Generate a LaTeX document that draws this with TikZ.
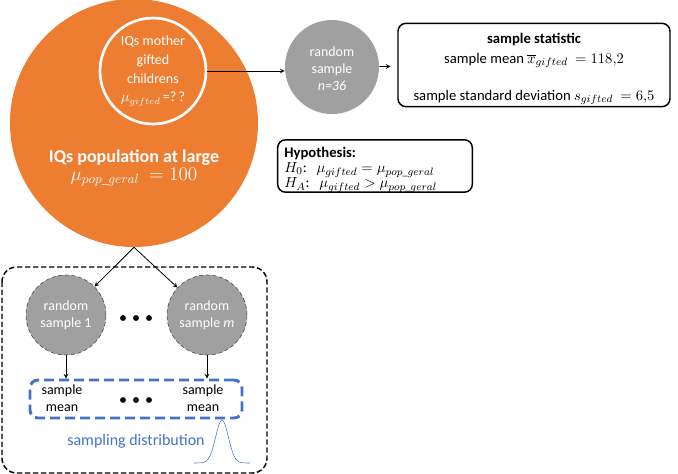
\documentclass[tikz,border=0pt]{standalone}
\usepackage{amsmath}
\usepackage{fontspec}
\setmainfont{Carlito}
\usepackage{tikz}
\usetikzlibrary{arrows,shapes,positioning,calc}
\usepackage{xcolor}
\definecolor{poporange}{RGB}{237,125,49}
\definecolor{samplegray}{RGB}{160,160,160}
\definecolor{distblue}{RGB}{68,114,196}
\tikzstyle{arrow} = [->,>=stealth,color=black,semithick]
\tikzstyle{population} = [circle, fill=poporange, minimum size=186pt, inner sep=0pt]
\tikzstyle{subpop} = [circle, draw=white, line width=2pt, minimum size=79.5pt, inner sep=0pt, text=white, align=center, font=\fontsize{10.5}{14}\selectfont]
\tikzstyle{sample} = [circle, fill=samplegray, inner sep=0pt, text=white, align=center, font=\fontsize{10.5}{13}\selectfont]
\tikzstyle{infobox} = [rectangle, rounded corners=6pt, draw=black, line width=1.1pt, inner ysep=0pt, font=\fontsize{11}{15}\selectfont]
\tikzstyle{plaintext} = [align=center, font=\fontsize{10.5}{13}\selectfont]

\begin{document}
\begin{tikzpicture}[x=0.75pt, y=-0.75pt]
    \useasboundingbox (0,0) rectangle (678,474);

    % Population
    \node[population] (pop) at (134,123) {};
    \node[subpop] (gifted) at (153,71) {IQs mother\\gifted\\childrens\\$\mu_{gifted}$\,=?\,?};
    \node[plaintext, text=white] (poplabel) at (134,168) {{\fontsize{13.5}{15}\selectfont\bfseries IQs population at large}\\[1pt]{\fontsize{14}{16}\selectfont$\mu_{pop\_geral}\ = 100$}};

    % Observed sample
    \node[sample, minimum size=70.5pt] (rs) at (332,67) {\rule{0pt}{10pt}random\\sample\\\textit{n=36}};
    \node[infobox, minimum width=204pt, minimum height=62.5pt, align=center] (stat) at (534,65) {\rule{0pt}{15pt}\textbf{sample statistic}\\sample mean $\overline{x}_{gifted}\ = 118{,}2$\\[12.75pt]sample standard deviation $s_{gifted}\ = 6{,}5$\rule[-4.5pt]{0pt}{4.5pt}};

    % Hypothesis
    \node[infobox, text width=136pt, inner xsep=5pt, minimum height=39pt, align=left, font=\fontsize{11}{11.25}\selectfont] (hyp) at (375,166) {\rule{0pt}{13.5pt}\textbf{Hypothesis:}\\$H_0$:\ \ $\mu_{gifted} = \mu_{pop\_geral}$\\$H_A$:\ \ $\mu_{gifted} > \mu_{pop\_geral}$\rule[-3pt]{0pt}{3pt}};

    % Sampling distribution
    \draw[line width=1.1pt, dash pattern=on 4pt off 2pt, rounded corners=11pt] (2,267) rectangle (267,473);
    \node[sample, minimum size=60pt, draw=black!75, densely dashed, thin] (rs1) at (66,315) {random\\sample 1};
    \node[sample, minimum size=60pt, draw=black!75, densely dashed, thin] (rsm) at (207,315) {random\\sample \textit{m}};
    \foreach \dx in {-13,0,13}
        \fill (136+\dx,318) circle (2.2pt);

    \node[rectangle, draw=distblue, line width=2.2pt, dash pattern=on 7.5pt off 3.75pt, rounded corners=6pt, minimum width=159pt, minimum height=28.5pt] (means) at (136,399) {};
    \node[plaintext] (mean1) at (62,398) {sample\\mean};
    \node[plaintext] (meanm) at (203,398) {sample\\mean};
    \foreach \dx in {-13,0,13}
        \fill (136+\dx,400) circle (2.2pt);
    \node[plaintext, text=distblue, font=\fontsize{12}{14}\selectfont] (dist) at (136,441) {sampling distribution};
    \draw[distblue, thin] plot[domain=-28:28, samples=60, smooth] ({222+\x}, {463-43*exp(-(\x/9)^2)});

    % Connections
    \draw[arrow] (gifted.east) -- (gifted.east -| rs.west);
    \draw[arrow, shorten >=5pt] (rs) -- (stat);
    \draw[arrow] (pop.south) -- (rs1);
    \draw[arrow] (pop.south) -- (rsm);
    \draw[arrow] (rs1) -- (rs1 |- means.north);
    \draw[arrow] (rsm) -- (rsm |- means.north);
\end{tikzpicture}
\end{document}
